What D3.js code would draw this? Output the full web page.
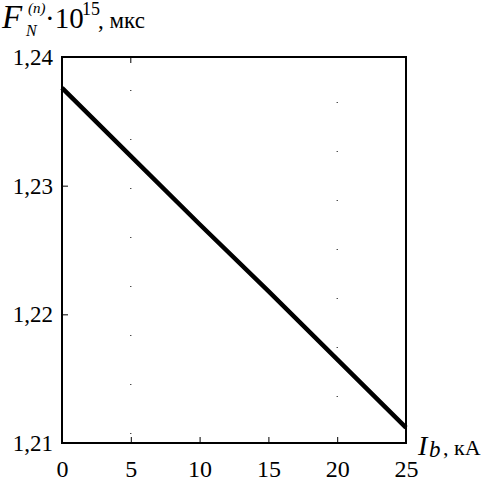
<!DOCTYPE html>
<html>
<head>
<meta charset="utf-8">
<script src="https://cdn.jsdelivr.net/npm/d3@7"></script>
<style>
  body { margin: 0; background: #fff; }
</style>
</head>
<body>
<div id="chart"></div>
<script>
var width = 484,
    height = 491

var margin = {top: 57, right: 78, bottom: 48, left: 62}
var serif = "Liberation Serif"

// current, kA
var current = [0, 5, 10, 15, 20, 25]
// F_N * 1e15, mks
var fValues = [1.2376, 1.2323, 1.2270, 1.2218, 1.2165, 1.2112]

var xTicks = [0, 5, 10, 15, 20, 25]
var yTicks = [1.21, 1.22, 1.23, 1.24]
var yTickLabels = ["1,21", "1,22", "1,23", "1,24"]

var svg = d3.select("#chart")
  .append("svg")
    .attr("width", width)
    .attr("height", height)
    .attr("font-family", serif)

var x = d3.scaleLinear()
  .domain([0, 25])
  .range([margin.left, width - margin.right])

var y = d3.scaleLinear()
  .domain([1.21, 1.24])
  .range([height - margin.bottom, margin.top])

// sparse dotted guides (as in the scan)
svg.selectAll("guides")
  .data([5, 20])
  .enter()
  .append("line")
    .attr("x1", function(d) { return x(d) })
    .attr("x2", function(d) { return x(d) })
    .attr("y1", function(d) { return d == 5 ? y(1.24) + 33 : y(1.24) + 45 })
    .attr("y2", y(1.21))
    .attr("stroke", "#000")
    .attr("stroke-width", 1)
    .attr("stroke-dasharray", "1,48")

// frame
svg.append("rect")
  .attr("x", x(0))
  .attr("y", y(1.24))
  .attr("width", x(25) - x(0))
  .attr("height", y(1.21) - y(1.24))
  .attr("fill", "none")
  .attr("stroke", "#000")
  .attr("stroke-width", 2)

var xAxis = svg.append("g")
  .attr("transform", "translate(0," + y(1.21) + ")")
  .call(d3.axisBottom(x).tickValues(xTicks).tickSize(-6).tickPadding(17))

xAxis.attr("font-family", serif).attr("font-size", 24)
xAxis.select(".domain").remove()

var yAxis = svg.append("g")
  .attr("transform", "translate(" + x(0) + ",0)")
  .call(d3.axisLeft(y).tickValues(yTicks).tickSize(-6).tickPadding(9)
    .tickFormat(function(d, i) { return yTickLabels[i] }))

yAxis.attr("font-family", serif).attr("font-size", 23)
yAxis.select(".domain").remove()

// top tick at 5
svg.append("line")
  .attr("x1", x(5)).attr("x2", x(5))
  .attr("y1", y(1.24)).attr("y2", y(1.24) + 6)
  .attr("stroke", "#000")

// the curve
var line = d3.line()
  .x(function(d, i) { return x(current[i]) })
  .y(function(d) { return y(d) })

svg.append("path")
  .datum(fValues)
  .attr("d", line)
  .attr("fill", "none")
  .attr("stroke", "#000")
  .attr("stroke-width", 4.5)

// y axis title
var t = svg.append("g").attr("font-family", serif)
t.append("text").attr("x", 2).attr("y", 28)
  .attr("font-size", 33).attr("font-style", "italic").text("F")
t.append("text").attr("x", 28).attr("y", 13)
  .attr("font-size", 15).attr("font-style", "italic").text("(n)")
t.append("text").attr("x", 26).attr("y", 36)
  .attr("font-size", 16).attr("font-style", "italic").text("N")
t.append("text").attr("x", 45).attr("y", 28)
  .attr("font-size", 29).text("·10")
t.append("text").attr("x", 82).attr("y", 15)
  .attr("font-size", 18).text("15")
t.append("text").attr("x", 98).attr("y", 28)
  .attr("font-size", 23).text(", мкс")

// x axis title
var xt = svg.append("g").attr("font-family", serif)
xt.append("text").attr("x", 418).attr("y", 455)
  .attr("font-size", 28).attr("font-style", "italic").text("I")
xt.append("text").attr("x", 429).attr("y", 457)
  .attr("font-size", 23).attr("font-style", "italic").text("b")
xt.append("text").attr("x", 443).attr("y", 455)
  .attr("font-size", 22).text(", кА")
</script>
</body>
</html>
